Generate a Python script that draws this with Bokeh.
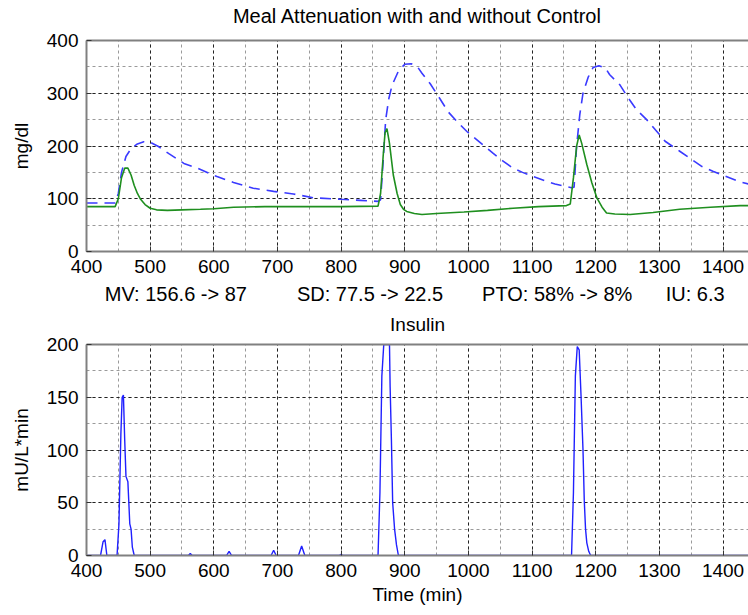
from bokeh.plotting import figure
from bokeh.layouts import column
from bokeh.models import SingleIntervalTicker, FixedTicker, Range1d, LinearAxis
from bokeh.embed import file_html
from bokeh.resources import INLINE

# ---------------- data ----------------
# Glucose without control (dashed blue)
t_nocontrol = [400, 445, 450, 455, 462, 470, 480, 490, 500, 513, 530, 553, 574, 605, 631,
               662, 694, 725, 756, 799, 830, 858, 862, 866, 870, 875, 880, 890, 900, 910,
               920, 927, 940, 955, 968, 983, 998, 1020, 1039, 1055, 1070, 1085, 1102, 1120,
               1136, 1150, 1162, 1166, 1170, 1175, 1180, 1188, 1196, 1205, 1215, 1222, 1238,
               1250, 1264, 1280, 1295, 1309, 1332, 1350, 1367, 1384, 1405, 1424, 1440]
g_nocontrol = [92, 92, 110, 150, 180, 195, 204, 208, 207, 199, 185, 167, 158, 142, 131,
               120, 114, 109, 102, 99, 97, 95, 98, 170, 250, 290, 315, 342, 355, 356,
               350, 338, 318, 290, 265, 245, 227, 205, 186, 171, 158, 150, 142, 134,
               128, 124, 121, 122, 200, 260, 300, 330, 349, 352, 348, 335, 316,
               293, 269, 250, 229, 209, 190, 175, 161, 152, 142, 133, 128]

# Glucose with control (solid green)
t_control = [400, 445, 450, 455, 460, 465, 470, 475, 480, 485, 492, 500, 510, 527, 550, 579,
             600, 631, 680, 750, 800, 858, 862, 866, 869, 872, 876, 882, 888, 893, 898, 903,
             915, 927, 950, 993, 1030, 1070, 1110, 1154, 1160, 1165, 1170, 1174, 1178, 1186,
             1194, 1202, 1210, 1217, 1230, 1254, 1290, 1332, 1380, 1427, 1440]
g_control = [85, 85, 100, 140, 158, 158, 145, 125, 110, 99, 89, 82, 79, 78, 79, 80,
             81, 84, 85, 85, 85, 86, 110, 180, 225, 233, 205, 145, 110, 89, 80, 76,
             72, 70, 72, 75, 78, 82, 85, 87, 90, 140, 200, 221, 205, 165,
             130, 101, 84, 73, 71, 70, 74, 80, 84, 87, 87]

# Insulin
t_insulin = [400, 422, 426, 429, 432, 448, 451, 454, 456, 458, 460, 462, 465, 468, 470, 472, 475,
             560, 563, 566, 620, 624, 628, 690, 694, 698, 733, 738, 743, 797, 800, 803,
             858, 861, 864, 867, 870, 876, 877, 879, 881, 884, 887, 890,
             1162, 1165, 1168, 1171, 1174, 1177, 1180, 1182, 1184, 1186, 1189, 1192, 1440]
insulin = [0, 0, 13, 15, 0, 0, 30, 115, 150, 152, 110, 75, 70, 30, 25, 8, 0,
           0, 2, 0, 0, 4, 0, 0, 5, 0, 0, 9, 0, 0, 1, 0,
           0, 60, 170, 200, 200, 200, 160, 110, 50, 25, 10, 0,
           0, 60, 170, 198, 195, 150, 100, 52, 25, 12, 4, 0, 0]

X_START, X_END = 400, 1440
Y1_MAX, Y2_MAX = 400, 200

title_top = "Meal Attenuation with and without Control"
NB = "\u00a0"
stats = ["MV: 156.6 -> 87", "SD: 77.5 -> 22.5", "PTO: 58% -> 8%", "IU: 6.3"]
stats_label = stats[0] + NB * 9 + stats[1] + NB * 7 + stats[2] + NB * 6 + stats[3] + NB
title_bottom = "Insulin"
ylabel_top = "mg/dl"
ylabel_bottom = "mU/L*min"
xlabel_bottom = "Time (min)"

FONT = "Liberation Sans"
TICK_FS = "19px"
LABEL_FS = "19px"
BIG_FS = "20px"
BORDER = "#808080"


def style(p, y_interval):
    p.outline_line_color = None
    p.background_fill_color = "white"
    p.border_fill_color = "white"
    xa = p.below[0]
    ya = p.left[0]
    for ax in (xa, ya):
        ax.axis_line_color = BORDER
        ax.axis_line_width = 2
        ax.major_tick_in = 5
        ax.major_tick_out = 0
        ax.minor_tick_in = 0
        ax.minor_tick_out = 0
        ax.major_tick_line_color = "#333333"
        ax.major_label_text_font = FONT
        ax.major_label_text_font_size = TICK_FS
        ax.major_label_text_color = "black"
        ax.axis_label_text_font = FONT
        ax.axis_label_text_font_size = LABEL_FS
        ax.axis_label_text_font_style = "normal"
        ax.axis_label_text_color = "black"
    xa.ticker = SingleIntervalTicker(interval=100, num_minor_ticks=2)
    ya.ticker = SingleIntervalTicker(interval=y_interval, num_minor_ticks=2)
    xa.major_label_standoff = 8
    ya.major_label_standoff = 8
    ya.axis_label_standoff = 12
    for g in (p.xgrid[0], p.ygrid[0]):
        g.grid_line_color = "#222222"
        g.grid_line_dash = "3 3"
        g.grid_line_width = 1
        g.minor_grid_line_color = "#9a9a9a"
        g.minor_grid_line_dash = "3 3"
        g.minor_grid_line_width = 1
    p.xgrid[0].ticker = SingleIntervalTicker(interval=100, num_minor_ticks=2)
    p.ygrid[0].ticker = SingleIntervalTicker(interval=y_interval, num_minor_ticks=2)
    return xa, ya


def add_top_axis(p, text, size, standoff):
    # top frame border that also carries the subplot title
    top = LinearAxis(ticker=FixedTicker(ticks=[]))
    top.axis_line_color = BORDER
    top.axis_line_width = 2
    top.major_tick_in = 0
    top.major_tick_out = 0
    top.minor_tick_in = 0
    top.minor_tick_out = 0
    top.major_label_standoff = 0
    top.axis_label = text
    top.axis_label_text_font = FONT
    top.axis_label_text_font_size = size
    top.axis_label_text_font_style = "normal"
    top.axis_label_text_color = "black"
    top.axis_label_standoff = standoff
    p.add_layout(top, "above")


p1 = figure(width=748, height=310, output_backend="svg", toolbar_location=None,
            x_range=Range1d(X_START, X_END), y_range=Range1d(0, Y1_MAX),
            min_border_left=86, min_border_right=0, min_border_top=40, min_border_bottom=59)
xa1, ya1 = style(p1, 100)
add_top_axis(p1, title_top, BIG_FS, 14)
xa1.axis_label = stats_label
xa1.axis_label_text_font_size = BIG_FS
xa1.axis_label_standoff = 7
ya1.axis_label = ylabel_top
p1.line(t_nocontrol, g_nocontrol, line_color="#3a3aff", line_width=1.6, line_dash="11 7")
p1.line(t_control, g_control, line_color="#1f8f1f", line_width=1.6)

p2 = figure(width=748, height=300, output_backend="svg", toolbar_location=None,
            x_range=Range1d(X_START, X_END), y_range=Range1d(0, Y2_MAX),
            min_border_left=86, min_border_right=0, min_border_top=33, min_border_bottom=55)
xa2, ya2 = style(p2, 50)
add_top_axis(p2, title_bottom, LABEL_FS, 10)
xa2.axis_label = xlabel_bottom
xa2.axis_label_standoff = 4
ya2.axis_label = ylabel_bottom
p2.line(t_insulin, insulin, line_color="#2020ff", line_width=1.4)

layout = column(p1, p2, spacing=0)
open("out.html", "w").write(file_html(layout, INLINE))
